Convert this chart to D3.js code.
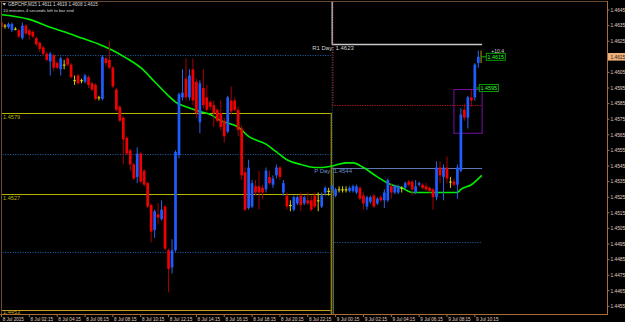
<!DOCTYPE html>
<html>
<head>
<meta charset="utf-8">
<script src="https://d3js.org/d3.v7.min.js"></script>
<style>
html, body { margin: 0; padding: 0; background: #000; }
svg { display: block; }
text { font-family: "Liberation Sans", Arial, sans-serif; }
</style>
</head>
<body>
<div id="chart"></div>
<script>
// GBPCHF M15 bars, [open, high, low, close]; bar 0 = 8 Jul 00:15
var ohlc = [
  [1.4637,1.4639,1.4633,1.4634],[1.4635,1.4636,1.4633,1.4635],[1.4634,1.4637,1.4633,1.4636],[1.4632,1.4637,1.4631,1.4636],
  [1.4633,1.4634,1.4632,1.4633],[1.4632,1.4633,1.4627,1.4628],[1.4627,1.4637,1.4626,1.4635],[1.4635,1.4636,1.4629,1.4630],
  [1.4632,1.4633,1.4626,1.4629],[1.4631,1.4632,1.4627,1.4628],[1.4627,1.4628,1.4622,1.4623],[1.4624,1.4625,1.4618,1.4620],
  [1.4621,1.4622,1.4616,1.4617],[1.4617,1.4618,1.4612,1.4613],[1.4612,1.4618,1.4603,1.4617],[1.4616,1.4617,1.4606,1.4608],
  [1.4611,1.4612,1.4607,1.4608],[1.4607,1.4615,1.4603,1.4614],[1.4610,1.4613,1.4607,1.4610],[1.4614,1.4615,1.4609,1.4610],
  [1.4610,1.4611,1.4601,1.4602],[1.4600,1.4603,1.4597,1.4600],[1.4603,1.4604,1.4597,1.4598],[1.4600,1.4601,1.4598,1.4600],
  [1.4599,1.4604,1.4598,1.4603],[1.4602,1.4603,1.4595,1.4597],[1.4598,1.4599,1.4593,1.4594],[1.4597,1.4598,1.4587,1.4588],
  [1.4589,1.4590,1.4587,1.4589],[1.4588,1.4616,1.4587,1.4615],[1.4614,1.4615,1.4609,1.4611],[1.4613,1.4625,1.4607,1.4608],
  [1.4608,1.4609,1.4595,1.4596],[1.4594,1.4595,1.4580,1.4581],[1.4583,1.4584,1.4573,1.4574],[1.4576,1.4577,1.4546,1.4562],
  [1.4563,1.4564,1.4552,1.4553],[1.4555,1.4556,1.4542,1.4546],[1.4546,1.4547,1.4536,1.4537],[1.4538,1.4557,1.4534,1.4553],
  [1.4553,1.4554,1.4534,1.4535],[1.4542,1.4543,1.4532,1.4533],[1.4534,1.4535,1.4518,1.4519],[1.4520,1.4521,1.4496,1.4503],
  [1.4504,1.4517,1.4499,1.4516],[1.4514,1.4521,1.4508,1.4512],[1.4511,1.4523,1.4510,1.4517],[1.4519,1.4520,1.4491,1.4492],
  [1.4491,1.4492,1.4464,1.4479],[1.4480,1.4498,1.4476,1.4491],[1.4491,1.4555,1.4490,1.4554],[1.4552,1.4592,1.4550,1.4591],
  [1.4589,1.4607,1.4587,1.4592],[1.4601,1.4614,1.4587,1.4589],[1.4589,1.4607,1.4587,1.4603],[1.4607,1.4614,1.4584,1.4587],
  [1.4599,1.4601,1.4576,1.4579],[1.4573,1.4600,1.4566,1.4598],[1.4595,1.4607,1.4582,1.4584],[1.4589,1.4597,1.4580,1.4581],
  [1.4586,1.4587,1.4581,1.4583],[1.4584,1.4587,1.4570,1.4579],[1.4581,1.4582,1.4573,1.4574],[1.4579,1.4587,1.4568,1.4570],
  [1.4574,1.4576,1.4560,1.4564],[1.4567,1.4590,1.4566,1.4589],[1.4587,1.4596,1.4578,1.4580],[1.4587,1.4589,1.4580,1.4581],
  [1.4581,1.4583,1.4564,1.4568],[1.4569,1.4571,1.4536,1.4539],[1.4541,1.4544,1.4516,1.4517],[1.4518,1.4549,1.4517,1.4544],
  [1.4519,1.4536,1.4518,1.4534],[1.4532,1.4536,1.4526,1.4528],[1.4532,1.4542,1.4517,1.4528],[1.4531,1.4533,1.4524,1.4528],
  [1.4530,1.4544,1.4528,1.4542],[1.4538,1.4542,1.4533,1.4534],[1.4533,1.4539,1.4531,1.4537],[1.4539,1.4546,1.4537,1.4544],
  [1.4544,1.4545,1.4536,1.4538],[1.4528,1.4536,1.4526,1.4534],[1.4526,1.4528,1.4517,1.4519],[1.4520,1.4523,1.4516,1.4520],
  [1.4517,1.4526,1.4516,1.4525],[1.4521,1.4526,1.4520,1.4525],[1.4526,1.4528,1.4516,1.4520],[1.4521,1.4526,1.4520,1.4525],
  [1.4523,1.4528,1.4520,1.4521],[1.4523,1.4526,1.4516,1.4517],[1.4526,1.4528,1.4518,1.4519],[1.4523,1.4528,1.4516,1.4523],
  [1.4519,1.4528,1.4518,1.4526],[1.4528,1.4532,1.4526,1.4531],[1.4529,1.4531,1.4526,1.4529],[1.4530,1.4533,1.4528,1.4532],
  [1.4526,1.4531,1.4525,1.4530],[1.4530,1.4532,1.4528,1.4530],[1.4530,1.4532,1.4528,1.4530],[1.4530,1.4532,1.4528,1.4530],
  [1.4529,1.4532,1.4528,1.4531],[1.4529,1.4533,1.4528,1.4532],[1.4528,1.4533,1.4527,1.4532],[1.4531,1.4532,1.4523,1.4524],
  [1.4526,1.4528,1.4517,1.4521],[1.4519,1.4526,1.4517,1.4525],[1.4522,1.4526,1.4521,1.4525],[1.4526,1.4527,1.4518,1.4519],
  [1.4521,1.4525,1.4520,1.4524],[1.4525,1.4526,1.4522,1.4523],[1.4523,1.4530,1.4518,1.4528],[1.4523,1.4537,1.4522,1.4536],
  [1.4532,1.4534,1.4524,1.4528],[1.4528,1.4533,1.4527,1.4532],[1.4528,1.4533,1.4527,1.4532],[1.4531,1.4532,1.4528,1.4531],
  [1.4531,1.4535,1.4530,1.4534],[1.4535,1.4536,1.4532,1.4533],[1.4535,1.4536,1.4526,1.4530],[1.4528,1.4536,1.4527,1.4532],
  [1.4533,1.4535,1.4532,1.4534],[1.4533,1.4534,1.4530,1.4531],[1.4532,1.4534,1.4529,1.4530],[1.4531,1.4532,1.4528,1.4529],
  [1.4530,1.4531,1.4517,1.4525],[1.4525,1.4548,1.4523,1.4544],[1.4544,1.4548,1.4534,1.4539],[1.4538,1.4546,1.4523,1.4544],
  [1.4544,1.4551,1.4534,1.4537],[1.4535,1.4538,1.4531,1.4535],[1.4535,1.4537,1.4532,1.4533],[1.4533,1.4546,1.4524,1.4544],
  [1.4542,1.4582,1.4541,1.4578],[1.4581,1.4585,1.4574,1.4576],[1.4576,1.4590,1.4569,1.4589],[1.4589,1.4594,1.4583,1.4587],
  [1.4589,1.4611,1.4587,1.4610],[1.4611,1.4619,1.4608,1.4615]
];

// moving average at a few bars
var maBars   = [0, 8, 14, 18, 23, 28, 32, 36, 40, 44, 48, 50, 53, 57, 60, 63, 68, 71, 76, 79, 82, 86, 90, 92, 95, 99, 101, 104, 108, 112, 115, 118, 125, 131, 132, 135, 138];
var maValues = [1.4642, 1.4639, 1.4634, 1.4631, 1.4627, 1.4623, 1.4619, 1.4614, 1.4608, 1.4599, 1.4590, 1.4586, 1.4583, 1.4580, 1.4578, 1.4574,
                1.4570, 1.4564, 1.4559, 1.4554, 1.4549, 1.4546, 1.4544, 1.4544, 1.4545, 1.4547, 1.4547, 1.4544, 1.4538, 1.4533, 1.4531, 1.4528,
                1.4528, 1.4528, 1.4530, 1.4533, 1.4539];

var timeTickBars = [0, 8, 16, 24, 32, 40, 48, 56, 64, 72, 80, 88, 96, 104, 112, 120, 128, 136];
var timeLabels = ["8 Jul 2015", "8 Jul 02:15", "8 Jul 04:15", "8 Jul 06:15", "8 Jul 08:15", "8 Jul 10:15", "8 Jul 12:15",
                  "8 Jul 14:15", "8 Jul 16:15", "8 Jul 18:15", "8 Jul 20:15", "8 Jul 22:15", "9 Jul 00:15", "9 Jul 02:15",
                  "9 Jul 04:15", "9 Jul 06:15", "9 Jul 08:15", "9 Jul 10:15"];
var priceTicks = [1.4645, 1.4635, 1.4625, 1.4615, 1.4605, 1.4595, 1.4585, 1.4575, 1.4565, 1.4555,
                  1.4545, 1.4535, 1.4525, 1.4515, 1.4505, 1.4495, 1.4485, 1.4475, 1.4465, 1.4455];

// levels of the previous day (left of the day break) and of the new day
var prevLevels = [1.4579, 1.4527, 1.4453];
var prevDotted = [1.4616, 1.4553, 1.4490];
var pivotDay = 1.4544, r1Day = 1.4623, redLevel = 1.4584, blueLevel = 1.4496;
var boxTop = 1.4594, boxBottom = 1.4566;
var bidPrice = 1.4615, markPrice = 1.4595;
var headerText = "GBPCHF,M15  1.4611 1.4619 1.4608 1.4615";
var timerText = "10 minutes 4 seconds left to bar end";

var W = 625, H = 322,
    plotRight = 607, plotBottom = 314,
    dayBreak = 94.6, dayStart = 95, lineEnd = 138.1;

var svg = d3.select("#chart").append("svg")
    .attr("width", W).attr("height", H)
    .style("background", "#000");

var x = d3.scaleLinear().domain([0, 137]).range([1.5, 478.3]);
var y = d3.scaleLinear().domain([1.4645, 1.4455]).range([10, 306.4]);

svg.append("clipPath").attr("id", "plot")
  .append("rect").attr("x", 2).attr("y", 2).attr("width", plotRight - 2).attr("height", plotBottom - 2);

var g = svg.append("g").attr("clip-path", "url(#plot)");

function hline(p, x1, x2, color, dash, width) {
  g.append("line")
    .attr("x1", x1).attr("x2", x2)
    .attr("y1", Math.round(y(p)) + 0.5).attr("y2", Math.round(y(p)) + 0.5)
    .attr("stroke", color).attr("stroke-width", width || 1)
    .attr("stroke-dasharray", dash || null);
}

// previous day lines
prevDotted.forEach(function (p) { hline(p, 0, x(dayBreak), "#1d5595", "1.2,1.3"); });
var prevColors = ["#b8b400", "#b8b400", "#c8a020"];
prevLevels.forEach(function (p, i) { hline(p, 0, x(dayBreak), prevColors[i]); });

// new day lines
hline(redLevel, x(dayStart), x(lineEnd), "#c01818", "1.2,1.3");
hline(blueLevel, x(dayStart), x(lineEnd), "#1d5595", "1.2,1.3");
hline(pivotDay, x(dayStart), x(lineEnd), "#5d78b0");
hline(r1Day, x(dayStart), x(lineEnd), "#c8c8c8", null, 1.3);

// day break verticals
g.append("line").attr("x1", x(dayBreak) + 0.5).attr("x2", x(dayBreak) + 0.5)
  .attr("y1", y(prevLevels[0])).attr("y2", plotBottom).attr("stroke", "#c8b400");
g.append("line").attr("x1", x(dayBreak) + 1.5).attr("x2", x(dayBreak) + 1.5)
  .attr("y1", 2).attr("y2", plotBottom).attr("stroke", "#1d5595").attr("stroke-dasharray", "1.2,1.3");
g.append("line").attr("x1", x(dayBreak) + 2.3).attr("x2", x(dayBreak) + 2.3)
  .attr("y1", 2).attr("y2", y(redLevel)).attr("stroke", "#c01818").attr("stroke-dasharray", "1.2,1.3");
g.append("line").attr("x1", x(dayStart)).attr("x2", x(dayStart))
  .attr("y1", 2).attr("y2", y(r1Day) + 0.5).attr("stroke", "#c8c8c8").attr("stroke-width", 1.2);
g.append("line").attr("x1", x(dayBreak) + 2.5).attr("x2", x(dayBreak) + 2.5)
  .attr("y1", y(pivotDay)).attr("y2", plotBottom).attr("stroke", "#8a8a30");

// purple box over the last bars
g.append("rect")
  .attr("x", x(130)).attr("y", y(boxTop))
  .attr("width", x(lineEnd) - x(130)).attr("height", y(boxBottom) - y(boxTop))
  .attr("fill", "none").attr("stroke", "#7a10a0").attr("stroke-width", 1);

// moving average
var maLine = d3.line()
  .x(function (d) { return x(d[0]); })
  .y(function (d) { return y(d[1]); })
  .curve(d3.curveMonotoneX);
g.append("path")
  .datum(d3.zip(maBars, maValues))
  .attr("d", maLine)
  .attr("fill", "none").attr("stroke", "#00ee00").attr("stroke-width", 1.6);

// candles
var bw = 2.7;
function kind(d) { return d[3] > d[0] ? "up" : (d[3] < d[0] ? "down" : "flat"); }
var wickCol = { up: "#2a66e8", down: "#a80000", flat: "#d8d000" };
var bodyCol = { up: "#1f5cff", down: "#f00000", flat: "#e0e000" };

var bars = g.append("g").selectAll("g.bar")
  .data(ohlc).enter().append("g").attr("class", "bar");

bars.append("line")
  .attr("x1", function (d, i) { return x(i); })
  .attr("x2", function (d, i) { return x(i); })
  .attr("y1", function (d) { return y(d[1]); })
  .attr("y2", function (d) { return y(d[2]); })
  .attr("stroke", function (d) { return wickCol[kind(d)]; })
  .attr("stroke-width", 1);

bars.append("rect")
  .attr("x", function (d, i) { return x(i) - bw / 2; })
  .attr("y", function (d) { return y(Math.max(d[0], d[3])); })
  .attr("width", bw)
  .attr("height", function (d) { return Math.max(1, Math.abs(y(d[0]) - y(d[3]))); })
  .attr("fill", function (d) { return bodyCol[kind(d)]; });

// small olive marker right of the live bar
g.append("rect")
  .attr("x", x(137) + 2).attr("y", y(1.4619))
  .attr("width", 1.6).attr("height", y(1.4611) - y(1.4619))
  .attr("fill", "#6a6400");

// price tags next to the last bars
function tag(p, xFrom, xBox) {
  var yy = y(p);
  g.append("line").attr("x1", xFrom).attr("x2", xBox).attr("y1", yy).attr("y2", yy)
    .attr("stroke", "#00c000");
  g.append("rect").attr("x", xBox).attr("y", yy - 3.5).attr("width", 19).attr("height", 7)
    .attr("fill", "#000").attr("stroke", "#00b000").attr("stroke-width", 0.9);
  g.append("text").attr("x", xBox + 9.5).attr("y", yy + 2).attr("text-anchor", "middle")
    .attr("fill", "#30ff30").style("font-size", "5.4px").text(p.toFixed(4));
}
tag(bidPrice, x(137) + 3, x(137) + 8);
tag(markPrice, x(136) + 1.5, x(136) + 4.5);
g.append("text").attr("x", x(137) + 13).attr("y", y(bidPrice) - 3.6)
  .attr("fill", "#d0d0d0").style("font-size", "5px").text("+10.4");

// level texts (outside the clip so the lowest one is not cut)
var levelFont = 5.6;
prevLevels.forEach(function (p, i) {
  svg.append("text").attr("x", 3).attr("y", Math.min(y(p) + 5.6, plotBottom - 0.3))
    .attr("fill", prevColors[i]).style("font-size", levelFont + "px")
    .text(p.toFixed(4));
});
svg.append("text").attr("x", x(dayStart) - 20).attr("y", y(r1Day) + 5.5)
  .attr("fill", "#d0d0d0").style("font-size", "6px").text("R1 Day: " + r1Day.toFixed(4));
svg.append("text").attr("x", x(dayStart) - 18).attr("y", y(pivotDay) + 5.5)
  .attr("fill", "#6a8ccc").style("font-size", "6px").text("P Day: " + pivotDay.toFixed(4));

// frame
var frame = "#a86c38";
svg.append("line").attr("x1", 0).attr("x2", plotRight).attr("y1", 1.5).attr("y2", 1.5).attr("stroke", "#6a4a30");
svg.append("line").attr("x1", 1.5).attr("x2", 1.5).attr("y1", 1).attr("y2", plotBottom).attr("stroke", "#6a4a30");
svg.append("line").attr("x1", plotRight + 0.5).attr("x2", plotRight + 0.5).attr("y1", 1).attr("y2", plotBottom + 1).attr("stroke", frame);
svg.append("line").attr("x1", 0).attr("x2", plotRight + 1).attr("y1", plotBottom + 0.5).attr("y2", plotBottom + 0.5).attr("stroke", frame);

// price axis
var axisText = "#e0d2c0";
var py = svg.append("g").selectAll("g").data(priceTicks).enter().append("g")
  .attr("transform", function (d) { return "translate(0," + y(d) + ")"; });
py.append("line").attr("x1", plotRight).attr("x2", plotRight + 2.5).attr("stroke", frame);
py.append("text").attr("x", 610.5).attr("y", 1.7)
  .attr("fill", axisText).style("font-size", "4.8px").text(function (d) { return d.toFixed(4); });

// bid label on the axis
svg.append("rect").attr("x", plotRight + 1).attr("y", y(bidPrice) - 3.8).attr("width", 17).attr("height", 7.6)
  .attr("fill", "#f0b07a");
svg.append("text").attr("x", 610.5).attr("y", y(bidPrice) + 1.8)
  .attr("fill", "#2a1a0a").style("font-size", "4.8px").text(bidPrice.toFixed(4));

// time axis
var tx = svg.append("g").selectAll("g").data(timeTickBars).enter().append("g")
  .attr("transform", function (d) { return "translate(" + x(d) + ",0)"; });
tx.append("line").attr("y1", plotBottom).attr("y2", plotBottom + 3).attr("stroke", frame);
tx.append("text").attr("x", 1.2).attr("y", 320.5)
  .attr("fill", axisText).style("font-size", "4.6px")
  .text(function (d, i) { return timeLabels[i]; });

// header
svg.append("path").attr("d", "M2.5,3.3 L6,3.3 L4.25,5.5 Z").attr("fill", "#e8e8e8");
svg.append("text").attr("x", 8).attr("y", 6.3).attr("fill", "#d8d8d8")
  .style("font-size", "4.6px").text(headerText);
svg.append("text").attr("x", 3).attr("y", 11.6).attr("fill", "#d8d8d8")
  .style("font-size", "4.4px").text(timerText);
</script>
</body>
</html>
